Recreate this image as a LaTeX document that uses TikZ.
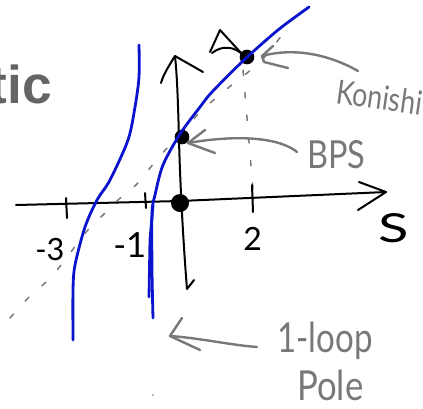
\documentclass[tikz,border=0pt]{standalone}
\usepackage{fontspec}
\setmainfont{Lato}
\newfontfamily\boldsans{Liberation Sans}
\definecolor{blu}{RGB}{10,20,205}
\definecolor{gry}{RGB}{120,120,120}
\definecolor{titlegray}{RGB}{100,100,100}
\begin{document}
\begin{tikzpicture}[x=0.75pt,y=-0.75pt,
  axis/.style={draw=black,line width=1.5pt,line cap=round,line join=round},
  bluecurve/.style={draw=blu,line width=2.1pt,line cap=round,line join=round},
  dashcurve/.style={draw=gry,line width=1.1pt,line cap=round,dash pattern=on 4pt off 13pt},
  note/.style={draw=gry,line width=1.8pt,line cap=round,line join=round},
  hand/.style={text=gry,inner sep=0pt,anchor=base west},
  numlab/.style={text=black,inner sep=0pt,anchor=base west},
  dot/.style={circle,fill=black,inner sep=0pt,minimum size=#1}
]
\useasboundingbox (0,0) rectangle (423,408);
\clip (0,0) rectangle (423,408);

% title fragment
\node[anchor=base east,inner sep=0pt,text=titlegray] (title) at (52,103)
  {\fontsize{40}{40}\boldsans\bfseries tic};

% dashed guide curve
\draw[dashcurve] plot[smooth] coordinates {(10,318) (30,296) (53,275) (87,231) (103,215) (118,200) (137,184) (150,168) (168,147) (187,128) (200,112) (228,88) (260,62) (282,35)};
\draw[dashcurve] (243,70) -- (248,130) -- (253,190);

% axes
\coordinate (vbot) at (187,289);
\coordinate (vtop) at (175,56);
\draw[axis] (194,280) -- (vbot) .. controls (183,240) and (180,180) .. (179,140) .. controls (178,100) and (177,75) .. (vtop);
\draw[axis] (161,83) .. controls (163,75) and (170,64) .. (vtop) -- (203,72);
\draw[axis] (210,52) -- (220,30) -- (242,54);
\draw[axis] (212,53) .. controls (222,45) and (235,46) .. (244,56);
\coordinate (hl) at (16,205);
\coordinate (hr) at (386,192);
\draw[axis] (hl) -- (180,201) -- (hr);
\draw[axis] (359,182) -- (hr) -- (358,210);
\draw[axis] (66,198) -- (67,218);
\draw[axis] (145,193) -- (146,208);
\draw[axis] (252,185) -- (253,212);

% dots
\node[dot=13.5pt] (origin) at (180,203) {};
\node[dot=11pt] (bps) at (182,137) {};
\node[dot=11pt] (konishi) at (247,57) {};

% blue curves
\draw[bluecurve] plot[smooth] coordinates {(139,45) (139,77) (135,107) (128,140) (110,180) (97,200) (85,227) (75,265) (73,290) (73,340)};
\draw[bluecurve] plot[smooth] coordinates {(153,318) (152,270) (152,213) (155,195) (163,165) (180,134) (200,107) (212,92) (244,60) (278,30) (309,7)};
\draw[bluecurve] (149,297) -- (150,240) -- (153,205);

% labels
\node[numlab] (m3) at (35,260) {\fontsize{23}{23}\selectfont -3};
\node[numlab] (m1) at (113,257) {\fontsize{26}{26}\selectfont -1};
\node[numlab] (two) at (243,250) {\fontsize{24}{24}\selectfont 2};
\node[numlab] (s) at (378,242) {\fontsize{30}{30}\selectfont\scalebox{1.4}[1]{S}};

\node[hand,rotate=-8] (konishiT) at (335,103) {\fontsize{25}{25}\selectfont\scalebox{0.8}[1]{Konishi}};
\node[hand] (bpsT) at (307,168) {\fontsize{29}{29}\selectfont\scalebox{0.84}[1]{BPS}};
\node[hand] (loopT) at (277,352) {\fontsize{31}{31}\selectfont\scalebox{0.8}[1]{1-loop}};
\node[hand] (poleT) at (297,400) {\fontsize{31}{31}\selectfont\scalebox{0.84}[1]{Pole}};

% annotation arrows
\coordinate (ka) at (358,71);
\coordinate (kh) at (262,56);
\draw[note] (ka) .. controls (330,55) and (295,47) .. (kh);
\draw[note] (273,46) -- (kh) -- (264,62) -- (288,68);
\coordinate (ba) at (297,152);
\coordinate (bh) at (188,143);
\draw[note] (ba) .. controls (280,138) and (240,134) .. (bh);
\draw[note] (205,130) -- (bh) -- (215,153);
\coordinate (la) at (257,347);
\coordinate (lh) at (170,336);
\draw[note] (la) .. controls (230,345) and (200,338) .. (lh);
\draw[note] (182,318) -- (lh) -- (200,350);

\fill[gry] (153,395) circle (0.8);
\end{tikzpicture}
\end{document}
